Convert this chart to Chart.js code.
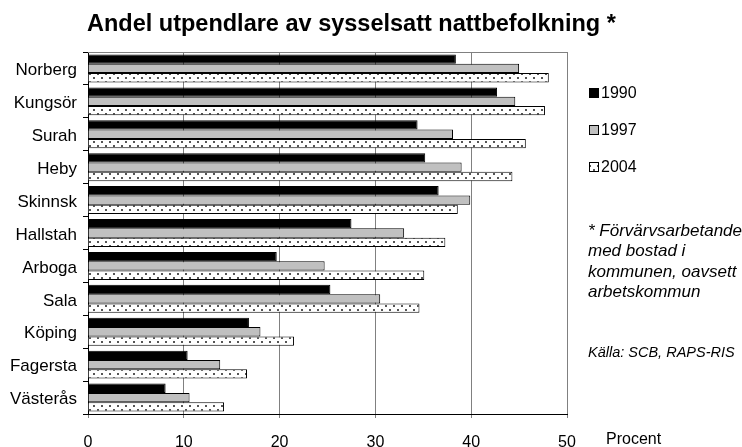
<!DOCTYPE html>
<html><head><meta charset="utf-8">
<script src="https://cdn.jsdelivr.net/npm/chart.js@4"></script>
<style>html,body{margin:0;padding:0;background:#fff}canvas{display:block}</style>
</head><body>
<canvas id="c" width="742" height="447"></canvas>
<script>
const categories = ['Norberg','Kungsör','Surah','Heby','Skinnsk','Hallstah','Arboga','Sala','Köping','Fagersta','Västerås'];
const v1990 = [38.4,42.7,34.4,35.2,36.6,27.5,19.7,25.3,16.8,10.4,8.1];
const v1997 = [45.0,44.6,38.1,39.0,39.9,33.0,24.7,30.5,18.0,13.8,10.6];
const v2004 = [48.1,47.7,45.7,44.3,38.6,37.3,35.1,34.6,21.5,16.6,14.2];
const seriesNames = ['1990','1997','2004'];
const xTicks = [0,10,20,30,40,50];
const titleText = 'Andel utpendlare av sysselsatt nattbefolkning *';
const noteLines = ['* Förvärvsarbetande','med bostad i','kommunen, oavsett','arbetskommun'];
const sourceText = 'Källa: SCB, RAPS-RIS';
const axisUnit = 'Procent';

const FONT = '"Liberation Sans", Arial, sans-serif';

function dotPattern(){
  const t = document.createElement('canvas'); t.width = 8; t.height = 8;
  const g = t.getContext('2d');
  g.fillStyle = '#fff'; g.fillRect(0,0,8,8);
  g.fillStyle = '#555';
  g.fillRect(1,1,2,2); g.fillRect(5,5,2,2);
  return document.getElementById('c').getContext('2d').createPattern(t,'repeat');
}

const overlay = {
  id: 'overlay',
  beforeDatasetsDraw(chart){
    const ctx = chart.ctx, a = chart.chartArea;
    ctx.save();
    ctx.strokeStyle = '#808080'; ctx.lineWidth = 1;
    ctx.beginPath(); ctx.moveTo(a.left, Math.round(a.top)+0.5); ctx.lineTo(a.right+1, Math.round(a.top)+0.5); ctx.stroke();
    ctx.restore();
  },
  afterDraw(chart){
    const ctx = chart.ctx;
    ctx.save();
    ctx.fillStyle = '#000';
    ctx.textAlign = 'left';
    ctx.textBaseline = 'alphabetic';
    ctx.font = 'bold 23.5px ' + FONT;
    ctx.fillText(titleText, 87, 31);
    // legend
    const ly = [93, 130, 167];
    chart.data.datasets.forEach((ds, i) => {
      ctx.fillStyle = ds.backgroundColor;
      ctx.fillRect(589, ly[i]-5, 10, 10);
      ctx.strokeStyle = '#000'; ctx.lineWidth = 1;
      ctx.strokeRect(589.5, ly[i]-4.5, 9, 9);
      ctx.fillStyle = '#000';
      ctx.font = '16px ' + FONT;
      ctx.textBaseline = 'middle';
      ctx.fillText(ds.label, 601, ly[i]+1);
    });
    ctx.font = 'italic 17px ' + FONT;
    ctx.textBaseline = 'middle';
    const ny = [231, 251, 272, 292];
    noteLines.forEach((t, i) => ctx.fillText(t, 588, ny[i]));
    ctx.font = 'italic 14.5px ' + FONT;
    ctx.fillText(sourceText, 588, 353);
    ctx.font = '16px ' + FONT;
    ctx.fillText(axisUnit, 606, 440);
    ctx.restore();
  }
};

new Chart(document.getElementById('c'), {
  type: 'bar',
  data: {
    labels: categories,
    datasets: [
      {label: seriesNames[0], data: v1990, backgroundColor: '#000000', borderColor: '#000', borderWidth: 1},
      {label: seriesNames[1], data: v1997, backgroundColor: '#c0c0c0', borderColor: '#000', borderWidth: 1},
      {label: seriesNames[2], data: v2004, backgroundColor: dotPattern(), borderColor: '#000', borderWidth: 1}
    ]
  },
  options: {
    indexAxis: 'y',
    responsive: false,
    animation: false,
    devicePixelRatio: 1,
    categoryPercentage: 0.85,
    barPercentage: 1.0,
    layout: {padding: {top: 52, right: 175, bottom: 0, left: 0}},
    plugins: {legend: {display: false}, tooltip: {enabled: false}, title: {display: false}},
    scales: {
      y: {
        type: 'category',
        grid: {offset: true, drawOnChartArea: false, drawTicks: true, tickLength: 5, color: '#000'},
        border: {color: '#000', width: 1},
        ticks: {font: {family: FONT, size: 17}, color: '#000', padding: 6, labelOffset: 2},
        afterFit(s){ s.width = 88; }
      },
      x: {
        type: 'linear', min: 0, max: 50,
        afterBuildTicks(s){ s.ticks = xTicks.map(v => ({value: v})); },
        grid: {color: '#808080', lineWidth: 1, drawTicks: true, tickLength: 4},
        border: {color: '#000', width: 1},
        ticks: {font: {family: FONT, size: 16}, color: '#000', padding: 15, maxRotation: 0},
        afterFit(s){ s.height = 33; }
      }
    }
  },
  plugins: [overlay]
});
</script>
</body></html>
